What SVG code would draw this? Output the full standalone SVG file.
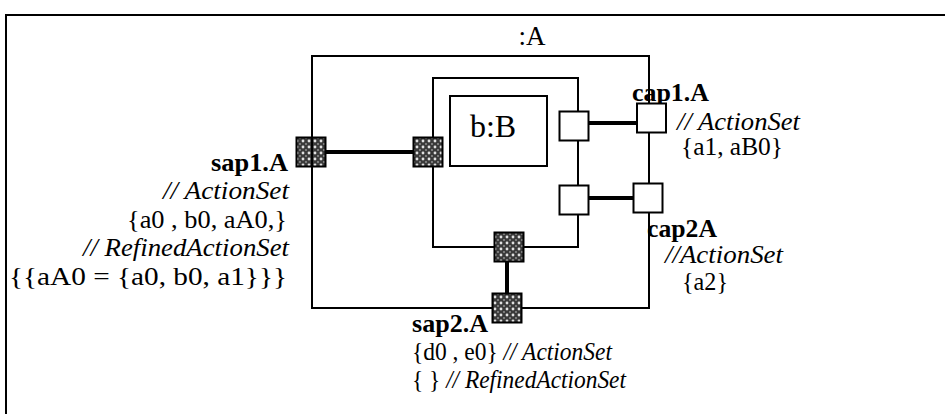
<svg xmlns="http://www.w3.org/2000/svg" width="945" height="414" viewBox="0 0 945 414">
<style>
.box{fill:none;stroke:#000;stroke-width:2}
.hp{fill:url(#hatch);stroke:#000;stroke-width:2}
.wp{fill:#fff;stroke:#000;stroke-width:2}
.conn{stroke:#000;stroke-width:4;fill:none}
text{font-family:"Liberation Serif","Times New Roman",serif;font-size:25px;fill:#000}
.b{font-weight:bold}
.i{font-style:italic}
</style>
<defs>
<pattern id="hatch" width="6" height="6" patternUnits="userSpaceOnUse">
<rect width="6" height="6" fill="#3a3a3a"/>
<circle cx="3" cy="3" r="1.4" fill="#e0e0e0"/>
<circle cx="0" cy="0" r="0.9" fill="#9a9a9a"/>
<circle cx="6" cy="0" r="0.9" fill="#9a9a9a"/>
<circle cx="0" cy="6" r="0.9" fill="#9a9a9a"/>
<circle cx="6" cy="6" r="0.9" fill="#9a9a9a"/>
</pattern>
</defs>
<rect width="945" height="414" fill="#fff"/>
<g id="frame">
<path d="M6,414 V15 H945" class="box"/>
</g>
<g id="A">
<rect x="312" y="56" width="337" height="252" class="box"/>
<text x="532" y="45" text-anchor="middle" style="font-size:27px">:A</text>
</g>
<g id="inner">
<rect x="433" y="78" width="145" height="169" class="box"/>
</g>
<g id="B">
<rect x="450" y="96" width="97" height="70" class="box"/>
<text x="493" y="137" text-anchor="middle" style="font-size:32px">b:B</text>
</g>
<g id="connectors">
<line x1="325" y1="152" x2="413" y2="152" class="conn"/>
<line x1="589" y1="123" x2="637" y2="123" class="conn"/>
<line x1="589" y1="198" x2="633" y2="198" class="conn"/>
<line x1="507" y1="261" x2="507" y2="293" class="conn"/>
</g>
<g id="sap1">
<rect x="296.5" y="137.5" width="29" height="29" class="hp"/>
<line x1="312" y1="137" x2="312" y2="167" stroke="#000" stroke-width="2"/>
<text x="288" y="171" text-anchor="end" class="b" textLength="77" lengthAdjust="spacingAndGlyphs">sap1.A</text>
<text x="289" y="199" text-anchor="end" class="i" textLength="126" lengthAdjust="spacingAndGlyphs">// ActionSet</text>
<text x="287" y="228" text-anchor="end" textLength="160" lengthAdjust="spacingAndGlyphs">{a0 , b0, aA0,}</text>
<text x="289" y="256" text-anchor="end" class="i" textLength="206" lengthAdjust="spacingAndGlyphs">// RefinedActionSet</text>
<text x="287" y="285" text-anchor="end" textLength="278" lengthAdjust="spacingAndGlyphs">{{aA0 = {a0, b0, a1}}}</text>
</g>
<g id="innerLeftPort">
<rect x="413.5" y="137.5" width="29" height="29" class="hp"/>
</g>
<g id="innerBottomPort">
<rect x="494.5" y="232.5" width="29" height="29" class="hp"/>
</g>
<g id="sap2">
<rect x="492.5" y="293.5" width="29" height="29" class="hp"/>
<text x="412" y="332" class="b" textLength="76" lengthAdjust="spacingAndGlyphs">sap2.A</text>
<text x="412" y="360" textLength="200" lengthAdjust="spacingAndGlyphs">{d0 , e0} <tspan class="i">// ActionSet</tspan></text>
<text x="412" y="388" textLength="214" lengthAdjust="spacingAndGlyphs">{ }  <tspan class="i">// RefinedActionSet</tspan></text>
</g>
<g id="innerTopRightPort">
<rect x="559.5" y="111.5" width="29" height="29" class="wp"/>
</g>
<g id="innerBottomRightPort">
<rect x="559.5" y="185.5" width="29" height="29" class="wp"/>
</g>
<g id="cap1">
<text x="632" y="101" class="b" textLength="77" lengthAdjust="spacingAndGlyphs">cap1.A</text>
<rect x="637" y="103.5" width="29" height="29" class="wp"/>
<text x="677" y="130" class="i" textLength="123" lengthAdjust="spacingAndGlyphs">// ActionSet</text>
<text x="681" y="155" textLength="102" lengthAdjust="spacingAndGlyphs">{a1, aB0}</text>
</g>
<g id="cap2">
<rect x="633.5" y="183.5" width="29" height="29" class="wp"/>
<text x="647" y="237" class="b" textLength="70" lengthAdjust="spacingAndGlyphs">cap2A</text>
<text x="665" y="263" class="i" textLength="118" lengthAdjust="spacingAndGlyphs">//ActionSet</text>
<text x="682" y="290" textLength="46" lengthAdjust="spacingAndGlyphs">{a2}</text>
</g>
</svg>
